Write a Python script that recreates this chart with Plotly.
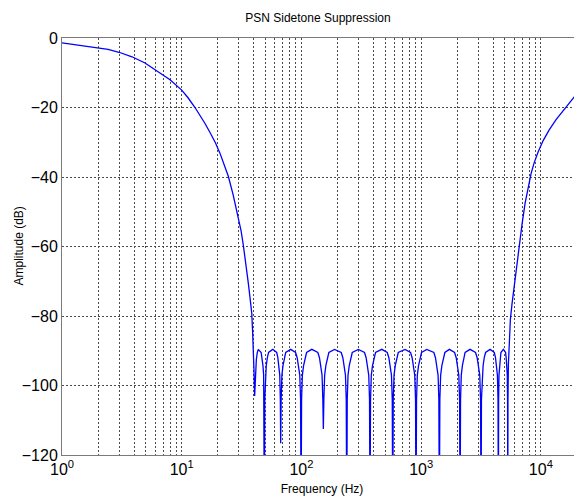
"""PSN sidetone suppression: amplitude response on a log frequency axis."""

import math

import plotly.graph_objects as go

# Low-frequency passband
PASS_LOW_HZ = [1, 1.284, 1.649, 2.0, 2.423, 2.994, 3.844, 4.935, 6.22, 7.985,
               10, 11.29, 12.91, 14.22, 15.65, 17.23, 19.16, 20.89, 22.56,
               24.5, 26.83, 29.71, 31.29, 32.7, 34.45, 36.01, 37.21, 38.45,
               39.05, 39.66]
PASS_LOW_DB = [-1.4, -1.9, -2.4, -2.8, -3.3, -4.1, -5.4, -7.2, -9.4, -12,
               -15, -17.2, -20, -22.2, -24.6, -27.2, -30.2, -33.2, -36.3,
               -39.8, -45, -51.4, -55.4, -59.6, -65, -70.6, -74.8, -79.2,
               -84, -88.8]

# Equiripple stopband, nulls run off the bottom of the axes
STOP_HZ = [
    40.18, 40.65, 41.2, 42.0, 42.8, 43.6,
    46.07, 46.97, 47.7, 48.34, 48.72, 49.0,
    49.38, 49.95, 50.82, 51.91, 53.13, 57.6,
    62.13, 63.52, 64.82, 65.89, 66.63, 67.1,
    67.68, 68.67, 70.13, 71.77, 73.88, 81.4,
    89.33, 92.12, 94.64, 96.85, 98.35, 99.3,
    100.26, 101.81, 104.2, 107.04, 110.38, 121.9,
    137.1, 141.4, 145.2, 148.6, 150.9, 152.4,
    153.9, 156.3, 159.9, 164.3, 169.4, 189,
    215.0, 221.7, 227.8, 233.1, 236.7, 239,
    241.3, 245.0, 250.8, 257.6, 265.7, 299,
    336.5, 347.0, 356.4, 364.8, 370.4, 374,
    377.6, 383.5, 392.4, 403.1, 415.7, 469,
    520.9, 537.2, 551.8, 564.7, 573.4, 579,
    584.6, 593.6, 607.5, 624.1, 643.6, 733,
    815.0, 840.5, 863.4, 883.6, 897.3, 906,
    914.8, 928.9, 950.7, 976.6, 1007.1, 1114,
    1276.5, 1316.4, 1352.3, 1384.0, 1405.4, 1419,
    1432.8, 1454.9, 1489.0, 1529.5, 1577.3, 1721,
    1901.8, 1961.2, 2014.7, 2061.8, 2093.7, 2114,
    2132.4, 2163.5, 2209.6, 2261.1, 2327.5, 2560,
    2846.3, 2935.3, 3015.3, 3085.9, 3133.6, 3164,
    3189.0, 3229.8, 3291.2, 3364.9, 3450.7, 3765,
    4081.3, 4176.7, 4257.6, 4333.7, 4384.0, 4416,
    4435.4, 4467.2, 4510.5, 4567.0, 4633.7, 4862,
    5071, 5129, 5189, 5239, 5269, 5290,
]
STOP_DB = [
    -96, -103, -97, -92.5, -90.5, -89.6,
    -90.5, -92, -94.3, -97, -104, -140,
    -104, -97, -94.3, -92, -90.5, -89.6,
    -90.5, -92, -94.3, -97, -104, -116.6,
    -104, -97, -94.3, -92, -90.5, -89.6,
    -90.5, -92, -94.3, -97, -104, -140,
    -104, -97, -94.3, -92, -90.5, -89.6,
    -90.5, -92, -94.3, -97, -104, -112.5,
    -104, -97, -94.3, -92, -90.5, -89.6,
    -90.5, -92, -94.3, -97, -104, -140,
    -104, -97, -94.3, -92, -90.5, -89.6,
    -90.5, -92, -94.3, -97, -104, -140,
    -104, -97, -94.3, -92, -90.5, -89.6,
    -90.5, -92, -94.3, -97, -104, -140,
    -104, -97, -94.3, -92, -90.5, -89.6,
    -90.5, -92, -94.3, -97, -104, -140,
    -104, -97, -94.3, -92, -90.5, -89.6,
    -90.5, -92, -94.3, -97, -104, -140,
    -104, -97, -94.3, -92, -90.5, -89.6,
    -90.5, -92, -94.3, -97, -104, -140,
    -104, -97, -94.3, -92, -90.5, -89.6,
    -90.5, -92, -94.3, -97, -104, -140,
    -104, -97, -94.3, -92, -90.5, -89.6,
    -90.5, -92, -94.3, -97, -104, -140,
    -104, -97, -94.3, -92, -90.5, -89.6,
    -90.5, -92, -94.3, -97, -104, -140,
]

# High-frequency passband
PASS_HIGH_HZ = [5310, 5352, 5440, 5560, 5740, 6000, 6280, 6577, 6966, 7382,
                7818, 8279, 8770, 9480, 10420, 11700, 13390, 16240, 18930,
                22050]
PASS_HIGH_DB = [-104, -94, -86, -81, -76.5, -71, -65.3, -60, -53.5, -47.5,
                -42.8, -39, -36, -32.8, -29.6, -26.5, -23.5, -19.8, -17,
                -14.5]

# decade ticks carry labels; the 2..9 lines are minor grid only
X_TICK_VALS = [1, 10, 100, 1000, 10000]
X_TICK_TEXT = ["10<sup>0</sup>", "10<sup>1</sup>", "10<sup>2</sup>",
               "10<sup>3</sup>", "10<sup>4</sup>"]
X_MINOR_VALS = [2, 3, 4, 5, 6, 7, 8, 9,
                20, 30, 40, 50, 60, 70, 80, 90,
                200, 300, 400, 500, 600, 700, 800, 900,
                2000, 3000, 4000, 5000, 6000, 7000, 8000, 9000,
                20000]

freq = PASS_LOW_HZ + STOP_HZ + PASS_HIGH_HZ
level = PASS_LOW_DB + STOP_DB + PASS_HIGH_DB

fig = go.Figure(
    go.Scatter(x=freq, y=level, mode="lines",
               line={"color": "#0000ff", "width": 1.3}, showlegend=False)
)

# the page body keeps its default 8px margin, so the figure is 8px smaller
grid_style = {"showgrid": True, "gridcolor": "#4a4a4a", "gridwidth": 1,
              "griddash": "2px,2px"}
fig.update_layout(
    width=574, height=488,
    margin={"l": 54, "r": 0, "t": 30, "b": 41},
    paper_bgcolor="white", plot_bgcolor="white",
    font={"family": "Liberation Sans, Arial, sans-serif", "color": "black"},
    title={"text": "PSN Sidetone Suppression", "x": 0.540, "xanchor": "center",
           "y": 0.9795, "yanchor": "middle", "font": {"size": 12}},
    xaxis={**grid_style, "automargin": False, "type": "log",
           "range": [0, math.log10(22050)],
           "tickvals": X_TICK_VALS, "ticktext": X_TICK_TEXT,
           "minor": {**grid_style, "tickvals": X_MINOR_VALS, "ticks": ""},
           "tickfont": {"size": 16}, "ticks": "",
           "showline": True, "linecolor": "#7a7a7a", "linewidth": 1,
           "mirror": True, "zeroline": False,
           "title": {"text": "Frequency (Hz)", "font": {"size": 12},
                     "standoff": 8}},
    yaxis={**grid_style, "automargin": False, "range": [-120, 0], "dtick": 20,
           "tickfont": {"size": 16}, "ticks": "",
           "showline": True, "linecolor": "#7a7a7a", "linewidth": 1,
           "zeroline": False},
    annotations=[{"text": "Amplitude (dB)", "textangle": -90,
                  "xref": "paper", "yref": "paper", "x": -0.0846, "y": 0.5,
                  "xanchor": "center", "yanchor": "middle",
                  "showarrow": False, "font": {"size": 12}}],
)

fig.write_html("out.html")
